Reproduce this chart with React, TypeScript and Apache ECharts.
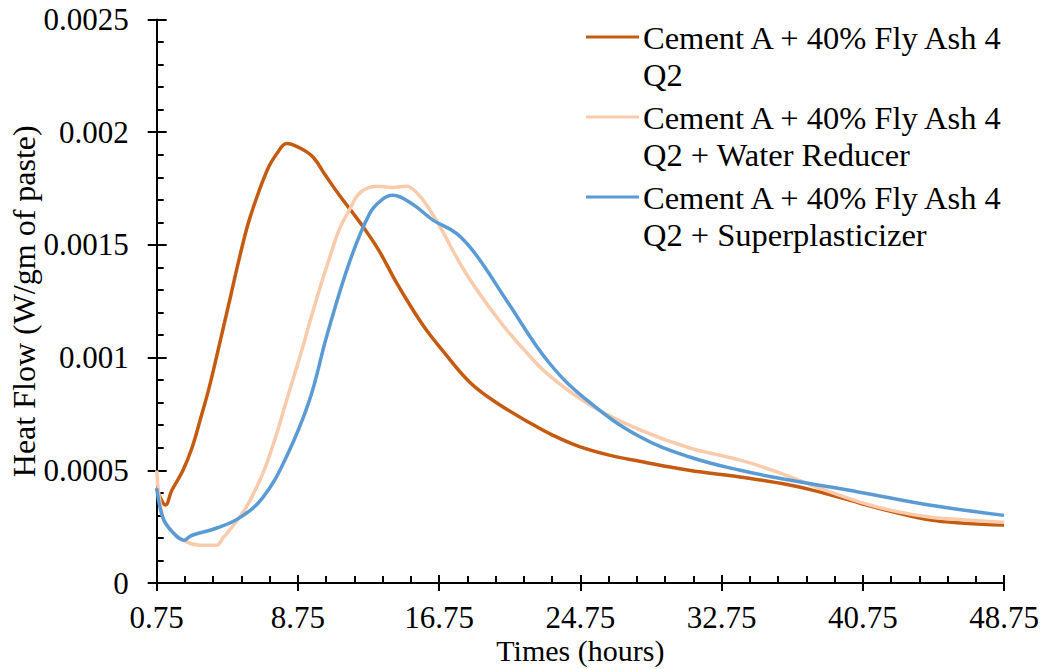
import React, { useEffect, useRef } from "react";
import * as echarts from "echarts";

const X_OFFSET = 0.75;
const xTickValues = [0.75, 8.75, 16.75, 24.75, 32.75, 40.75, 48.75];
const yTickValues = [0, 0.0005, 0.001, 0.0015, 0.002, 0.0025];

const seriesNames = [
  "Cement A + 40% Fly Ash 4 Q2",
  "Cement A + 40% Fly Ash 4 Q2 + Water Reducer",
  "Cement A + 40% Fly Ash 4 Q2 + Superplasticizer",
];
const legendLines = [
  ["Cement A + 40% Fly Ash 4", "Q2"],
  ["Cement A + 40% Fly Ash 4", "Q2 + Water Reducer"],
  ["Cement A + 40% Fly Ash 4", "Q2 + Superplasticizer"],
];
const colors = ["#C55A11", "#F8CBAD", "#5B9BD5"];

const timeA = [0.75, 1.25, 1.6, 2.24, 2.75, 3.2, 3.7, 4.16, 4.9, 5.46, 6.03, 7.0, 7.6, 8.12, 8.86, 9.6, 10.3, 11.1, 12.26, 13.3, 14.35, 15.2, 16.05, 16.96, 18.5, 20.0, 21.9, 23.2, 24.7, 26.5, 28.1, 30.9, 33.8, 36.6, 38.5, 40.55, 42.5, 44.5, 46.5, 48.75];
const heatA = [0.00042, 0.000346, 0.00041, 0.0005, 0.0006, 0.00072, 0.00086, 0.00101, 0.00126, 0.00145, 0.00162, 0.00183, 0.00191, 0.00195, 0.00193, 0.00189, 0.00181, 0.00172, 0.0016, 0.00148, 0.00133, 0.00122, 0.00112, 0.00103, 0.00089, 0.0008, 0.00071, 0.000655, 0.000605, 0.000565, 0.00054, 0.0005, 0.00047, 0.000435, 0.0004, 0.000355, 0.000315, 0.00028, 0.000265, 0.000257];

const timeB = [0.75, 1.1, 1.6, 2.24, 3.2, 4.16, 4.5, 4.73, 5.85, 6.98, 8.3, 9.0, 9.43, 10.0, 10.7, 11.1, 11.7, 12.25, 13.2, 14.1, 14.9, 15.5, 16.1, 16.8, 18.3, 20.2, 21.5, 23.0, 25.3, 28.1, 30.9, 33.8, 36.0, 38.0, 40.55, 42.5, 44.5, 46.5, 48.75];
const heatB = [0.0005, 0.00029, 0.00023, 0.00019, 0.000168, 0.000168, 0.0002, 0.00022, 0.00034, 0.00053, 0.00086, 0.00104, 0.00116, 0.00131, 0.00148, 0.00157, 0.00166, 0.00173, 0.00176, 0.001755, 0.00176, 0.00173, 0.00167, 0.00158, 0.00137, 0.00116, 0.00104, 0.00092, 0.00079, 0.00068, 0.0006, 0.000545, 0.00049, 0.00043, 0.00036, 0.00032, 0.000293, 0.00028, 0.00027];

const timeC = [0.75, 1.1, 1.6, 2.3, 2.6, 2.8, 4.16, 5.46, 6.77, 8.1, 9.4, 10.4, 11.7, 12.82, 13.5, 14.1, 15.25, 16.4, 17.75, 18.9, 20.6, 23.0, 25.3, 28.1, 30.9, 33.8, 36.6, 40.55, 44.5, 48.75];
const heatC = [0.00042, 0.00029, 0.00023, 0.00019, 0.000205, 0.000213, 0.000244, 0.00029, 0.00038, 0.00056, 0.00081, 0.0011, 0.00143, 0.00164, 0.0017, 0.00172, 0.00168, 0.00161, 0.00155, 0.00145, 0.00125, 0.000975, 0.0008, 0.00065, 0.00056, 0.0005, 0.000457, 0.000403, 0.000346, 0.0003];

const FONT = "Liberation Serif, Times New Roman, serif";

function pairs(ts: number[], vs: number[]) {
  return ts.map((t, i) => [t - X_OFFSET, vs[i]]);
}

export default function App() {
  const ref = useRef<HTMLDivElement>(null);
  useEffect(() => {
    if (!ref.current) return;
    const chart = echarts.init(ref.current, null, { renderer: "svg" });
    const xMin = xTickValues[0] - X_OFFSET;
    const xMax = xTickValues[xTickValues.length - 1] - X_OFFSET;
    const xInterval = xTickValues[1] - xTickValues[0];
    const yMax = yTickValues[yTickValues.length - 1];
    const yInterval = yTickValues[1] - yTickValues[0];
    const axisLineStyle = { color: "#000", width: 2 };
    const data = [pairs(timeA, heatA), pairs(timeB, heatB), pairs(timeC, heatC)];

    const legendGraphics: any[] = [];
    legendLines.forEach((lines, i) => {
      const y = 37 + i * 80;
      legendGraphics.push({
        type: "line",
        shape: { x1: 586, y1: y, x2: 639, y2: y },
        style: { stroke: colors[i], lineWidth: 3 },
      });
      lines.forEach((txt, j) => {
        legendGraphics.push({
          type: "text",
          x: 643,
          y: y + 1 + j * 37,
          style: {
            text: txt,
            fontFamily: FONT,
            fontSize: 32.5,
            fill: "#000",
            verticalAlign: "middle",
          },
        });
      });
    });

    const tickText = { fontFamily: FONT, fontSize: 31, color: "#000" };

    chart.setOption({
      animation: false,
      backgroundColor: "#fff",
      grid: { left: 156.7, right: 40, top: 19.5, bottom: 86, containLabel: false, outerBoundsMode: "none" },
      xAxis: [
        {
          type: "value",
          min: xMin,
          max: xMax,
          interval: xInterval,
          name: "Times (hours)",
          nameLocation: "middle",
          nameGap: 52,
          nameMoveOverlap: false,
          nameTextStyle: { fontFamily: FONT, fontSize: 30, color: "#000" },
          axisLine: { show: true, onZero: false, lineStyle: axisLineStyle },
          axisTick: { show: true, inside: true, length: 8, lineStyle: axisLineStyle },
          minorTick: { show: true, splitNumber: 5, length: 7, lineStyle: axisLineStyle },
          splitLine: { show: false },
          axisLabel: {
            ...tickText,
            margin: 19,
            formatter: (v: number) => (v + X_OFFSET).toFixed(2),
          },
        },
        {
          type: "value",
          position: "bottom",
          min: xMin,
          max: xMax,
          interval: xInterval,
          axisLine: { show: false, onZero: false },
          axisTick: { show: true, inside: false, length: 8, lineStyle: axisLineStyle },
          axisLabel: { show: false },
          splitLine: { show: false },
        },
      ],
      yAxis: [
        {
          type: "value",
          min: 0,
          max: yMax,
          interval: yInterval,
          name: "Heat Flow (W/gm of paste)",
          nameLocation: "middle",
          nameGap: 117,
          nameMoveOverlap: false,
          nameTextStyle: { fontFamily: FONT, fontSize: 32, color: "#000" },
          axisLine: { show: true, onZero: false, lineStyle: axisLineStyle },
          axisTick: { show: true, inside: true, length: 10, lineStyle: axisLineStyle },
          minorTick: { show: true, splitNumber: 5, length: 7, lineStyle: axisLineStyle },
          splitLine: { show: false },
          axisLabel: {
            ...tickText,
            margin: 28,
            formatter: (v: number) => String(parseFloat(v.toFixed(4))),
          },
        },
        {
          type: "value",
          position: "left",
          min: 0,
          max: yMax,
          interval: yInterval,
          axisLine: { show: false, onZero: false },
          axisTick: { show: true, inside: false, length: 9, lineStyle: axisLineStyle },
          axisLabel: { show: false },
          splitLine: { show: false },
        },
      ],
      series: seriesNames.map((name, i) => ({
        name,
        type: "line",
        data: data[i],
        smooth: 0.4,
        showSymbol: false,
        symbol: "none",
        lineStyle: { color: colors[i], width: 3.5 },
        itemStyle: { color: colors[i] },
      })),
      graphic: legendGraphics,
    });
    return () => chart.dispose();
  }, []);
  return (
    <div
      ref={ref}
      style={{ position: "fixed", left: 0, top: 0, width: 1044, height: 669, background: "#fff" }}
    />
  );
}
